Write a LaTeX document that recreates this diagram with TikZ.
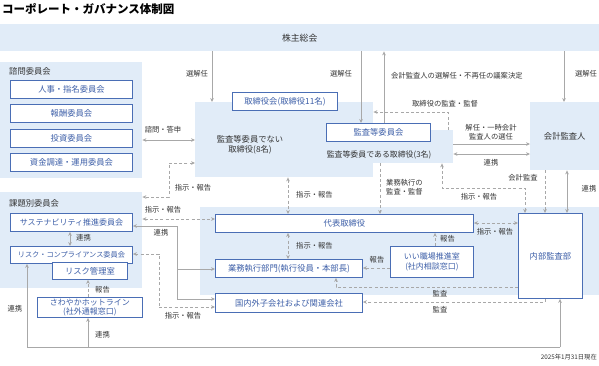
\documentclass[tikz,border=0pt]{standalone}
\usepackage{fontspec}
\setmainfont{Noto Sans CJK JP}
\usetikzlibrary{arrows.meta,calc}
\definecolor{bgblue}{HTML}{E1ECF8}
\definecolor{bxblue}{HTML}{4A6EB5}
\definecolor{txblue}{HTML}{3D5FA8}
\definecolor{lngray}{HTML}{A8A8A8}
\definecolor{txgray}{HTML}{333333}
\begin{document}
\begin{tikzpicture}[x=1pt,y=-1pt,
  region/.style={fill=bgblue,draw=none,inner sep=0pt,anchor=north west,font=\fontsize{8.3}{10}\selectfont,text=txgray,align=center},
  wbox/.style={fill=white,draw=bxblue,line width=0.9pt,inner sep=0pt,anchor=north west,font=\fontsize{8.3}{10}\selectfont,text=txblue,align=center},
  rtext/.style={font=\fontsize{8.3}{10}\selectfont,text=txgray,inner sep=0pt,align=center},
  lbl/.style={font=\fontsize{7.3}{8.6}\selectfont,text=txgray,inner sep=0pt,align=center},
  conn/.style={draw=lngray,line width=1pt},
  dconn/.style={draw=lngray,line width=0.9pt,dash pattern=on 3pt off 2.2pt},
  arrE/.style={-{Stealth[length=4pt,width=3.6pt]}},
  arrS/.style={{Stealth[length=4pt,width=3.6pt]}-},
  arrB/.style={{Stealth[length=4pt,width=3.6pt]}-{Stealth[length=4pt,width=3.6pt]}}
]
\useasboundingbox (0,0) rectangle (599,365);
% title
\node[anchor=west,inner sep=0pt,font=\fontsize{11.5}{13}\selectfont\bfseries,text=black] (title) at (2,9) {コーポレート・ガバナンス体制図};
% regions
\node[region,minimum width=599pt,minimum height=27pt,font=\fontsize{8.8}{10}\selectfont] (kabu) at (0,24) {株主総会};
\node[region,minimum width=142pt,minimum height=116pt] (shimon) at (0,62) {};
\node[region,minimum width=142pt,minimum height=96pt] (kadai) at (0,192) {};
\node[region,minimum width=178pt,minimum height=75pt] (r8) at (195,102) {};
\node[region,minimum width=150pt,minimum height=33pt] (r3) at (303,130) {};
\node[region,minimum width=69pt,minimum height=68pt] (kaikei) at (530,102) {会計監査人};
\node[region,minimum width=399pt,minimum height=88pt] (low) at (200,207) {};
% region texts
\node[rtext,anchor=west] (shimonT) at (9,71) {諮問委員会};
\node[rtext,anchor=west] (kadaiT) at (9,203) {課題別委員会};
\node[rtext] (r8T) at (250,145) {監査等委員でない\\取締役(8名)};
\node[rtext,font=\fontsize{7.9}{9}\selectfont] (r3T) at (379,155) {監査等委員である取締役(3名)};
% boxes
\node[wbox,minimum width=122pt,minimum height=18pt] (jinji) at (10,80) {人事・指名委員会};
\node[wbox,minimum width=122pt,minimum height=18pt] (hoshu) at (10,104) {報酬委員会};
\node[wbox,minimum width=122pt,minimum height=18pt] (toshi) at (10,129) {投資委員会};
\node[wbox,minimum width=122pt,minimum height=18pt] (shikin) at (10,153) {資金調達・運用委員会};
\node[wbox,minimum width=122pt,minimum height=18pt,font=\fontsize{8}{9}\selectfont] (sus) at (10,213) {サステナビリティ推進委員会};
\node[wbox,minimum width=122pt,minimum height=17pt,font=\fontsize{7.2}{9}\selectfont] (rc) at (10,246) {リスク・コンプライアンス委員会};
\node[wbox,minimum width=75pt,minimum height=17pt] (risk) at (52,262) {リスク管理室};
\node[wbox,minimum width=105pt,minimum height=20pt,font=\fontsize{8}{8.6}\selectfont] (hot) at (37,297) {さわやかホットライン\\(社外通報窓口)};
\node[wbox,minimum width=105pt,minimum height=18pt] (tori) at (232,92) {取締役会(取締役11名)};
\node[wbox,minimum width=104pt,minimum height=18pt] (kansa) at (326,123) {監査等委員会};
\node[wbox,minimum width=258pt,minimum height=18pt] (daihyo) at (215,214) {代表取締役};
\node[wbox,minimum width=147pt,minimum height=18pt] (gyomu) at (215,259) {業務執行部門(執行役員・本部長)};
\node[wbox,minimum width=83pt,minimum height=31pt,font=\fontsize{8}{9.5}\selectfont] (ii) at (390,246) {いい職場推進室\\(社内相談窓口)};
\node[wbox,minimum width=64pt,minimum height=85pt] (naibu) at (518,213) {内部監査部};
\node[wbox,minimum width=147pt,minimum height=19pt] (koku) at (215,293) {国内外子会社および関連会社};
% helper coordinates
\foreach \x in {27,70,88,159,169,177,212,288,336,361,380,384,435,442,448,525,545,560,564,567}{\coordinate (x\x) at (\x,0);}
\foreach \y in {112,140,144,154,163,188,197,219,226,223,254,268,269,287,299,302,307,347}{\coordinate (y\y) at (0,\y);}
% top connectors
\draw[conn,arrE] (kabu.south -| x212) -- (r8.north -| x212);
\node[lbl] (l1) at (197,74) {選解任};
\draw[conn,arrE] (kabu.south -| x361) -- (kansa.north -| x361);
\node[lbl] (l2) at (341,74) {選解任};
\draw[conn,arrE] (kansa.north -| x384) -- (kabu.south -| x384);
\node[lbl,anchor=west] (l3) at (391,76) {会計監査人の選解任・不再任の議案決定};
\draw[conn,arrE] (kabu.south -| x564) -- (kaikei.north -| x564);
\node[lbl] (l4) at (586,74) {選解任};
\draw[dconn,arrE] (r3.north -| x448) |- (r8.east |- y112);
\node[lbl] (l5) at (445,104) {取締役の監査・監督};
\draw[conn,arrE] (r3.east |- y144) -- (kaikei.west |- y144);
\node[lbl] (l6) at (491,132) {解任・一時会計\\監査人の選任};
\draw[conn,arrB] (r3.east |- y154) -- (kaikei.west |- y154);
\node[lbl] (l7) at (491,163) {連携};
\draw[dconn,arrE] (kaikei.south -| x545) -- (naibu.north -| x545);
\node[lbl] (l8) at (523,178) {会計監査};
\draw[conn,arrB] (kaikei.south -| x567) -- (naibu.north -| x567);
\node[lbl] (l9) at (589,189) {連携};
\draw[dconn,arrB] (r3.south -| x442) |- (x525 |- y188) -- (naibu.north -| x525);
\node[lbl] (l10) at (479,197) {指示・報告};
\draw[dconn,arrE] (r3.south -| x380) -- (daihyo.north -| x380);
\node[lbl,anchor=west,align=left] (l11) at (386,187) {業務執行の\\監査・監督};
\draw[dconn,arrB] (r8.south -| x288) -- (daihyo.north -| x288);
\node[lbl,anchor=west] (l12) at (296,195) {指示・報告};
\draw[dconn,arrB] (daihyo.south -| x288) -- (gyomu.north -| x288);
\node[lbl,anchor=west] (l13) at (296,246) {指示・報告};
\draw[dconn,arrE] (ii.north -| x435) -- (daihyo.south -| x435);
\node[lbl,anchor=west] (l14) at (440,239) {報告};
\draw[dconn,arrE] (ii.west |- y268) -- (gyomu.east |- y268);
\node[lbl] (l15) at (377,260) {報告};
\draw[dconn,arrB] (daihyo.east |- y223) -- (naibu.west |- y223);
\node[lbl] (l16) at (495,232) {指示・報告};
\draw[dconn,arrE] (naibu.west |- y287) -| (gyomu.south -| x336);
\node[lbl] (l17) at (440,294) {監査};
\draw[dconn,arrE] (naibu.south -| x545) |- (koku.east |- y302);
\node[lbl] (l18) at (440,310) {監査};
% left connectors
\draw[conn,arrB] (shimon.east |- y140) -- (r8.west |- y140);
\node[lbl] (l19) at (163,130) {諮問・答申};
\draw[dconn,arrB] (r8.west |- y163) -| (x169 |- y197) -- (kadai.east |- y197);
\node[lbl] (l20) at (193,188) {指示・報告};
\draw[dconn,arrB] (kadai.east |- y219) -- (daihyo.west |- y219);
\node[lbl] (l21) at (163,210) {指示・報告};
\draw[conn,arrS] (sus.east |- y226) -| (x177 |- y299);
\draw[conn,arrE] (x177 |- y269) -- (gyomu.west |- y269);
\draw[conn,arrE] (x177 |- y299) -- (koku.west |- y299);
\node[lbl] (l22) at (161,233) {連携};
\draw[dconn,arrS] (rc.east |- y254) -| (x159 |- y307);
\draw[dconn,arrE] (x159 |- y307) -- (koku.west |- y307);
\node[lbl] (l23) at (183,316) {指示・報告};
\draw[conn,arrB] (sus.south -| x70) -- (rc.north -| x70);
\node[lbl,anchor=west] (l24) at (76,238) {連携};
\draw[dconn,arrE] (hot.north -| x88) -- (risk.south -| x88);
\node[lbl,anchor=west] (l25) at (95,290) {報告};
\draw[conn,arrS] (rc.south -| x27) |- (x560 |- y347);
\draw[conn,arrE] (x560 |- y347) -- (naibu.south -| x560);
\draw[conn,arrE] (x88 |- y347) -- (hot.south -| x88);
\node[lbl] (l26) at (15,309) {連携};
\node[lbl,anchor=west] (l27) at (95,335) {連携};
% date
\node[anchor=east,inner sep=0pt,font=\fontsize{6.3}{7}\selectfont,text=txgray] (date) at (597,357) {2025年1月31日現在};
\end{tikzpicture}
\end{document}
